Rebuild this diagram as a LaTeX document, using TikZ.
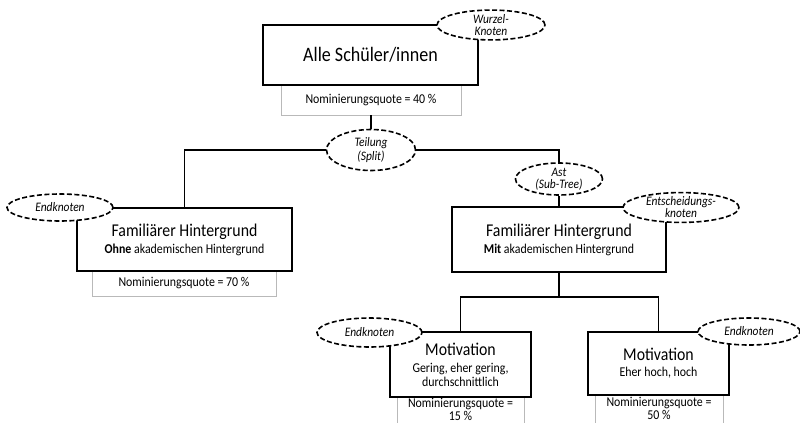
\documentclass[tikz,border=0pt]{standalone}
\usepackage{fontspec}
\setmainfont{Carlito}[FakeStretch=0.88]
\usetikzlibrary{shapes.geometric}
\newcommand{\ttl}[1]{{\fontsize{18}{14}\selectfont #1}}
\begin{document}
\begin{tikzpicture}[x=1pt,y=-1pt,
  box/.style={draw, line width=1.8pt, inner sep=0pt, align=center, fill=white, font=\fontsize{13.5}{14}\selectfont},
  quote/.style={draw=gray!55, line width=0.8pt, inner sep=0pt, align=center, font=\fontsize{13.5}{12.5}\selectfont},
  quotetext/.style={inner sep=0pt, align=center, font=\fontsize{13.5}{12.5}\selectfont},
  lbl/.style={ellipse, draw, fill=white, line width=1.6pt, dash pattern=on 5pt off 2.5pt, inner sep=0pt, align=center, font=\fontsize{13}{12.5}\selectfont\itshape},
  conn/.style={line width=1.3pt},
  side/.style={draw=gray!55, line width=0.8pt}
]
\useasboundingbox (0,0) rectangle (800,423);

% quota boxes
\node[quote, minimum width=180pt, minimum height=30pt] (q0) at (371,100) {Nominierungsquote = 40 \%};
\node[quote, minimum width=184pt, minimum height=25pt] (q1) at (184,283.5) {Nominierungsquote = 70 \%};
\node[quotetext] (q2) at (460.5,409.5) {Nominierungsquote =\\15 \%};
\node[quotetext] (q3) at (659,408) {Nominierungsquote =\\[0.5pt]50 \%};
\draw[side] (397,397) -- (397,423);
\draw[side] (524,397) -- (524,423);
\draw[side] (595,395) -- (595,423);
\draw[side] (723,395) -- (723,423);

% main boxes
\node[box, minimum width=215pt, minimum height=60pt] (root) at (370.5,55) {\fontsize{20.5}{24}\selectfont Alle Schüler/innen};
\node[box, minimum width=215pt, minimum height=63pt] (ohne) at (184.5,239.5) {\ttl{Familiärer Hintergrund}\\[3pt]\textbf{Ohne} akademischen Hintergrund};
\node[box, minimum width=214pt, minimum height=65pt] (mit) at (559,239.5) {\ttl{Familiärer Hintergrund}\\[3pt]\textbf{Mit} akademischen Hintergrund};
\node[box, minimum width=141pt, minimum height=65pt] (mot1) at (460.5,364.5) {\ttl{Motivation}\\[3pt]Gering, eher gering,\\durchschnittlich};
\node[box, minimum width=141pt, minimum height=63pt] (mot2) at (658.5,363.5) {\ttl{Motivation}\\[2pt]Eher hoch, hoch};

% connector labels (ellipses)
\node[lbl, minimum width=89pt, minimum height=41pt] (teil) at (371,150) {Teilung\\[1pt](Split)};
\node[lbl, minimum width=87pt, minimum height=32pt] (ast) at (559,179) {Ast\\(Sub-Tree)};

% connectors
\draw[conn] (q0.south) -- (teil.north);
\draw[conn] (teil.west) -| (ohne.north);
\draw[conn] (teil.east) -| (ast.north);
\draw[conn] (ast.south) -- (mit.north);
\coordinate (j) at (559,297);
\draw[conn] (mit.south) -- (j);
\draw[conn] (mot1.north) |- (j) -| (mot2.north);

% node-type labels
\node[lbl, minimum width=108pt, minimum height=25pt] (wurzel) at (491,25) {Wurzel-\\[-0.5pt]Knoten};
\node[lbl, minimum width=106pt, minimum height=27pt] (end1) at (60,207.5) {Endknoten};
\node[lbl, minimum width=116pt, minimum height=29pt] (entsch) at (681,207.5) {Entscheidungs-\\[-0.5pt]knoten};
\node[lbl, minimum width=105pt, minimum height=29pt] (end2) at (369.5,332.5) {Endknoten};
\node[lbl, minimum width=102pt, minimum height=27pt] (end3) at (749,331.5) {Endknoten};
\end{tikzpicture}
\end{document}
